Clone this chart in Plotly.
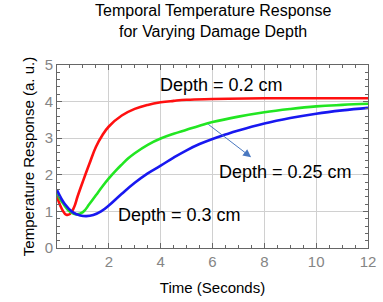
import plotly.graph_objects as go

time_red = [0.0, 0.2, 0.36, 0.5, 0.65, 0.8, 1.0, 1.25, 1.5, 1.75, 2.0, 2.5, 3.0, 3.5, 4.0, 4.5, 5.0, 6.0, 8.0, 10.0, 12.0]
temp_red = [1.40, 1.05, 0.91, 0.93, 1.10, 1.42, 1.82, 2.30, 2.76, 3.08, 3.32, 3.62, 3.80, 3.91, 3.98, 4.02, 4.05, 4.07, 4.09, 4.09, 4.09]

time_green = [0.0, 0.25, 0.5, 0.75, 1.0, 1.25, 1.5, 1.75, 2.0, 2.25, 2.5, 2.75, 3.0, 3.5, 4.0, 4.5, 5.0, 5.5, 6.0, 7.0, 8.0, 9.0, 10.0, 11.0, 12.0]
temp_green = [1.48, 1.20, 0.99, 0.92, 0.98, 1.20, 1.44, 1.68, 1.90, 2.10, 2.28, 2.45, 2.59, 2.82, 2.99, 3.12, 3.23, 3.34, 3.44, 3.59, 3.71, 3.80, 3.87, 3.91, 3.94]

time_blue = [0.0, 0.3, 0.6, 0.9, 1.13, 1.4, 1.7, 2.0, 2.5, 3.0, 3.5, 4.0, 4.5, 5.0, 5.5, 6.0, 6.5, 7.0, 8.0, 9.0, 10.0, 11.0, 12.0]
temp_blue = [1.58, 1.20, 0.98, 0.89, 0.87, 0.90, 1.00, 1.16, 1.48, 1.78, 2.04, 2.25, 2.47, 2.67, 2.84, 2.98, 3.10, 3.21, 3.40, 3.55, 3.67, 3.76, 3.83]

labels = ["Depth = 0.2 cm", "Depth = 0.25 cm", "Depth = 0.3 cm"]
label_x = [6.36, 8.8, 4.73]
label_y = [4.46, 2.08, 0.9]
arrow_from = (5.78, 3.41)
arrow_to = (7.49, 2.48)
title_text = "Temporal Temperature Response<br>for Varying Damage Depth"

FONT = "Arial, Liberation Sans, sans-serif"

fig = go.Figure()
for xs, ys, c in [(time_red, temp_red, "#ff1010"), (time_green, temp_green, "#22e622"), (time_blue, temp_blue, "#1818f0")]:
    fig.add_trace(go.Scatter(x=xs, y=ys, mode="lines",
                             line=dict(color=c, width=2.6, shape="spline", smoothing=1.2),
                             showlegend=False, hoverinfo="skip"))

for text, lx, ly in zip(labels, label_x, label_y):
    fig.add_annotation(x=lx, y=ly, text=text, showarrow=False, xref="x", yref="y",
                       font=dict(family=FONT, size=18, color="black"))

fig.add_annotation(x=arrow_to[0], y=arrow_to[1], ax=arrow_from[0], ay=arrow_from[1],
                   xref="x", yref="y", axref="x", ayref="y", text="", showarrow=True,
                   arrowhead=2, arrowsize=1.6, arrowwidth=1, arrowcolor="#4a78c0")

fig.add_annotation(x=0.5, y=1.243, xref="paper", yref="paper", text=title_text, showarrow=False,
                   xanchor="center", yanchor="middle", align="center",
                   font=dict(family=FONT, size=16, color="black"))

axis_common = dict(showline=True, linecolor="#666666", linewidth=1, mirror="allticks",
                   ticks="inside", ticklen=5, tickcolor="#666666", automargin=False,
                   showgrid=True, gridcolor="#d0d0d0", gridwidth=1, zeroline=False,
                   tickfont=dict(family=FONT, size=15, color="#858585"))

fig.update_xaxes(range=[0, 12], tickvals=[2, 4, 6, 8, 10, 12],
                 minor=dict(dtick=0.5, ticks="inside", ticklen=3, tickcolor="#666666", showgrid=False),
                 title=dict(text="Time (Seconds)", font=dict(family=FONT, size=15, color="black"), standoff=13),
                 **axis_common)
fig.update_yaxes(range=[0, 5], tickvals=[0, 1, 2, 3, 4, 5],
                 minor=dict(dtick=0.2, ticks="inside", ticklen=3, tickcolor="#666666", showgrid=False),
                 title=dict(text="Temperature Response (a. u.)", font=dict(family=FONT, size=15, color="black"), standoff=6),
                 **axis_common)

fig.update_layout(
    width=383, height=302,
    margin=dict(l=57, r=15, t=65, b=54),
    paper_bgcolor="white", plot_bgcolor="white",
)

fig.write_html("out.html", config={"displayModeBar": False},
               post_script="document.body.style.margin='0';")
